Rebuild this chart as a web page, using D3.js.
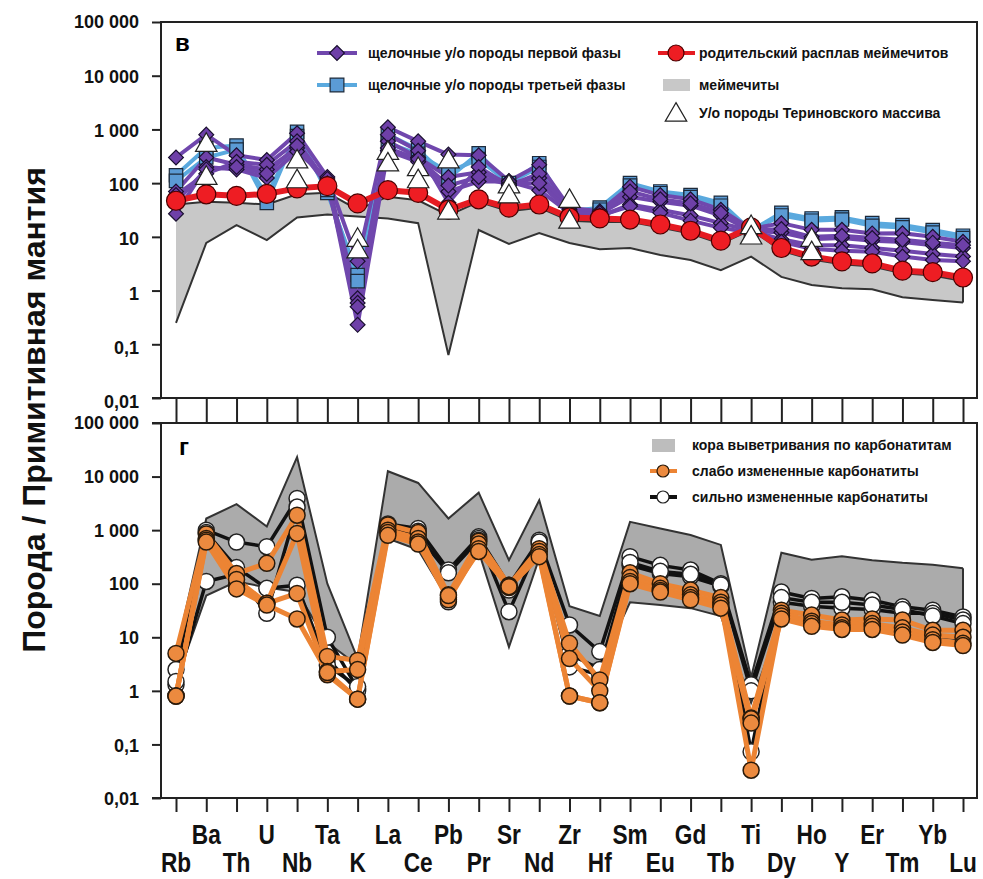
<!DOCTYPE html>
<html><head><meta charset="utf-8">
<script src="https://cdn.jsdelivr.net/npm/d3@7"></script>
<style>
body{margin:0;background:#fff;}
svg{display:block;font-family:"Liberation Sans",Arial,sans-serif;}
</style>
</head><body>
<svg id="c" width="983" height="879"></svg>
<script>
// ---------- DATA ----------
const elements = ["Rb","Ba","Th","U","Nb","Ta","K","La","Ce","Pb","Pr","Sr","Nd","Zr","Hf","Sm","Eu","Gd","Tb","Ti","Dy","Ho","Y","Er","Tm","Yb","Lu"];
const yTickValues = [0.01,0.1,1,10,100,1000,10000,100000];
const yTickLabels = ["0,01","0,1","1","10","100","1 000","10 000","100 000"];

// panel "в"
const meimechiteMax = [40,45,43,40,62,66,32,56,48,25,45,30,35,20,19,19,15,11.5,7.5,13.5,5.5,3.8,3.1,2.8,2.1,1.9,1.5];
const meimechiteMin = [0.25,7.7,16.6,8.7,23,26,24,22,18,0.063,13.4,7.4,11.8,7.7,5.9,6.2,4.6,3.7,2.4,4.3,1.8,1.27,1.1,1.06,0.75,0.67,0.6];
const parentalMelt = [47,62,58,63,80,88,42,74,66,32,50,35,40,23,22,21,17,13,8.5,15,6.2,4.3,3.5,3.2,2.35,2.2,1.75];
const phase1_a = [300,800,330,270,850,130,3.5,1100,600,340,330,110,220,35,30,86,60,50,32,14,18,13.5,13.5,11.6,11.7,10,8.1];
const phase1_b = [70,300,220,180,450,110,0.72,600,300,130,160,100,124,30,27,56,45,38,25,13,12,9,9.5,8.5,8,7,6.2];
const phase1_c = [27,200,180,125,390,120,0.23,400,250,70,107,107,74,28,24,40,32,25,18,13,9,7,7,6.2,5.5,4.8,4.3];
const phase1_d = [60,150,250,220,600,100,0.59,800,400,43,200,90,150,32,28,70,50,42,28,13,14,10,10.5,9.5,8.8,7.8,7];
const phase1_e = [45,180,200,150,500,90,0.5,450,280,90,130,95,100,30,25,37,28,20,14.7,12,8.1,6,5.5,5.3,4.3,3.7,3.5];
const phase3_a = [140,450,500,43,900,66,1.95,800,420,124,360,93,235,30,35,100,70,60,43,13,28,22,23,18,16.6,13.4,10.5];
const phase3_b = [110,300,420,60,750,75,1.5,550,350,160,280,100,200,32,32,90,65,55,38,13,25,20,21,16,15,12,9.5];
const terinovsky_a = [null,510,null,null,250,null,8.7,360,180,250,null,86,null,46,null,null,null,null,null,15,null,8.7,null,null,null,null,null];
const terinovsky_b = [null,124,null,null,107,null,5.3,220,107,28,null,56,null,19,null,null,null,null,null,9.6,null,4.9,null,null,null,null,null];

// panel "г"
const crustMax = [5,1650,3050,1170,23000,100,4,12600,7600,1650,5000,275,3600,38,25,1430,1070,810,530,1.8,380,280,325,275,245,225,195];
const crustMin = [1.5,60,110,85,70,8,3,700,430,50,400,6.6,300,4.4,2.8,45,40,35,25,0.6,21,18,17,15,13,10,9];
const weak_a = [5,850,155,240,1900,4.4,3.7,1250,900,62,620,94,450,7.7,1.6,160,100,76,55,0.31,32,26,21,22,21,13.5,13.5];
const weak_b = [0.8,700,94,43,870,2.3,2.5,1000,700,55,550,90,400,4,1.0,130,82,62,45,0.033,28,20,17,18,15,11,10];
const weak_c = [0.8,650,120,43,66,2.0,0.7,900,600,50,450,85,350,0.8,0.6,110,75,55,40,0.3,25,18,15,16,12.6,9,7.7];
const weak_d = [0.8,600,80,40,22,2.2,0.7,800,550,60,400,88,320,0.8,0.6,100,70,50,35,0.25,22,16,14,14,11,8,7];
const strong_a = [2.5,1000,600,490,3900,10,1.1,1300,1070,180,750,94,650,17,5.4,320,220,180,100,1.3,70,53,57,49,37,32,24];
const strong_b = [1.3,110,150,28,2700,4,1.0,1100,950,46,700,30,550,2.8,2,220,155,135,90,0.073,45,38,35,33,28,28,21];
const strong_c = [1.5,900,200,82,94,3,1.2,1000,800,160,650,76,600,5,2.5,250,170,150,95,1.0,55,45,45,40,33,25,18];

// ---------- SCALES ----------
const svg = d3.select("#c");
const x = d3.scalePoint().domain(elements).range([176, 963]);
const yTop = d3.scaleLog().domain([0.01, 100000]).range([398, 22]);
const yBot = d3.scaleLog().domain([0.01, 100000]).range([798, 423]);
const L = 161, R = 977;

function rows(vals){ return vals.map((v,i)=>({el:elements[i], v})); }

// ---------- GRAY BANDS ----------
function band(y, lo, hi, fill){
  const d = elements.map((e,i)=>({el:e, lo:lo[i], hi:hi[i]}));
  svg.append("path").datum(d)
    .attr("d", d3.area().x(p=>x(p.el)).y0(p=>y(p.lo)).y1(p=>y(p.hi)))
    .attr("fill", fill);
  [lo, hi].forEach(arr=>{
    svg.append("path").datum(rows(arr))
      .attr("d", d3.line().x(p=>x(p.el)).y(p=>y(p.v)))
      .attr("fill","none").attr("stroke","#333").attr("stroke-width",2).attr("stroke-linejoin","miter");
  });
  const n = elements.length-1;
  svg.append("line").attr("x1",x(elements[n])).attr("x2",x(elements[n]))
    .attr("y1",y(lo[n])).attr("y2",y(hi[n])).attr("stroke","#333").attr("stroke-width",2);
}
band(yTop, meimechiteMin, meimechiteMax, "#c8c8c8");
band(yBot, crustMin, crustMax, "#ababab");

function seriesLine(y, vals, color, w){
  svg.append("path").datum(rows(vals))
    .attr("d", d3.line().defined(p=>p.v!=null).x(p=>x(p.el)).y(p=>y(p.v)))
    .attr("fill","none").attr("stroke",color).attr("stroke-width",w).attr("stroke-linejoin","round");
}
function markers(y, vals, type, size, fill, stroke, sw, rot){
  svg.append("g").selectAll("path").data(rows(vals).filter(p=>p.v!=null)).join("path")
    .attr("d", d3.symbol().type(type).size(size)())
    .attr("transform", p=>`translate(${x(p.el)},${y(p.v)})` + (rot?` rotate(${rot})`:""))
    .attr("fill",fill).attr("stroke",stroke).attr("stroke-width",sw);
}

// ---------- TOP PANEL SERIES ----------
const PURPLE = "#7047ad", PURPLE_F = "#6e40a8", BLUE = "#5aa9de", BLUE_F = "#5b9bd5";
const RED = "#e51b22", RED_F = "#ee1d23";
const phase3 = [phase3_a, phase3_b];
const phase1 = [phase1_a, phase1_b, phase1_c, phase1_d, phase1_e];
phase3.forEach(s=>seriesLine(yTop, s, BLUE, 4));
phase1.forEach(s=>seriesLine(yTop, s, PURPLE, 4));
phase3.forEach(s=>markers(yTop, s, d3.symbolSquare, 180, BLUE_F, "#1d2a3a", 1.2));
phase1.forEach(s=>markers(yTop, s, d3.symbolSquare, 110, PURPLE_F, "#1a1030", 1.2, 45));
seriesLine(yTop, parentalMelt, RED, 6);
svg.append("g").selectAll("circle").data(rows(parentalMelt)).join("circle")
  .attr("cx",p=>x(p.el)).attr("cy",p=>yTop(p.v)).attr("r",9.5)
  .attr("fill",RED_F).attr("stroke","#4a0000").attr("stroke-width",1.2);
[terinovsky_a, terinovsky_b].forEach(s=>markers(yTop, s, d3.symbolTriangle, 200, "#fff", "#222", 1.2));

// ---------- BOTTOM PANEL SERIES ----------
const ORANGE = "#ec8434", ORANGE_F = "#ec8a3f";
const strong = [strong_a, strong_b, strong_c];
const weak = [weak_a, weak_b, weak_c, weak_d];
strong.forEach(s=>seriesLine(yBot, s, "#111", 3.5));
strong.forEach(s=>{
  svg.append("g").selectAll("circle").data(rows(s)).join("circle")
    .attr("cx",p=>x(p.el)).attr("cy",p=>yBot(p.v)).attr("r",8)
    .attr("fill","#fff").attr("stroke","#222").attr("stroke-width",1.5);
});
weak.forEach(s=>seriesLine(yBot, s, ORANGE, 5));
weak.forEach(s=>{
  svg.append("g").selectAll("circle").data(rows(s)).join("circle")
    .attr("cx",p=>x(p.el)).attr("cy",p=>yBot(p.v)).attr("r",8)
    .attr("fill",ORANGE_F).attr("stroke","#2a1a0a").attr("stroke-width",1.5);
});

// ---------- AXES & FRAMES ----------
const FR = "#222";
function frame(top, bottom){
  svg.append("path").attr("d",`M${L},${bottom}V${top}H${R}V${bottom}H${L - 9}`)
    .attr("fill","none").attr("stroke",FR).attr("stroke-width",2);
}
frame(22, 398);
frame(423, 798);
svg.append("line").attr("x1",L-9).attr("x2",L).attr("y1",423).attr("y2",423).attr("stroke",FR).attr("stroke-width",2);

function yAxis(y, drift){
  const g = svg.append("g").attr("transform",`translate(${L},0)`)
    .call(d3.axisLeft(y).tickValues(yTickValues).tickSize(9).tickPadding(13)
      .tickFormat(d=>yTickLabels[yTickValues.indexOf(d)]));
  g.select(".domain").remove();
  g.selectAll(".tick line").attr("stroke",FR).attr("stroke-width",2);
  const [r0, r1] = y.range();
  g.selectAll(".tick text").attr("font-size",18).attr("font-weight","bold").attr("fill","#111")
    .attr("font-family","'Liberation Sans',Arial,sans-serif")
    .attr("y", d => drift * (y(d) - r1) / (r0 - r1));
}
yAxis(yTop, 4); yAxis(yBot, 1);

function xAxis(yPos, len){
  const g = svg.append("g").attr("transform",`translate(0,${yPos})`)
    .call(d3.axisBottom(x).tickSize(len).tickFormat(""));
  g.select(".domain").remove();
  g.selectAll(".tick line").attr("stroke",FR).attr("stroke-width",2);
}
xAxis(398, 25);
xAxis(798, 14);

// element labels (two staggered rows)
svg.append("g").selectAll("text").data(elements).join("text")
  .attr("transform",(d,i)=>`translate(${x(d)},${i%2 ? 844 : 872}) scale(0.84,1)`)
  .attr("text-anchor","middle").attr("font-size",27).attr("font-weight","bold").attr("fill","#111")
  .text(d=>d);

// y title
svg.append("text").attr("transform","translate(45,410) rotate(-90)")
  .attr("text-anchor","middle").attr("font-size",32).attr("font-weight","bold").attr("fill","#111")
  .text("Порода / Примитивная мантия");

// panel letters
svg.append("text").attr("x",175).attr("y",51).attr("font-size",24).attr("font-weight","bold").text("в");
svg.append("text").attr("x",179).attr("y",455).attr("font-size",24).attr("font-weight","bold").text("г");

// ---------- LEGENDS ----------
function ltext(xp, yp, t){
  svg.append("text").attr("x",xp).attr("y",yp).attr("dy","0.35em")
    .attr("font-size",14).attr("font-weight","bold").attr("fill","#111").text(t);
}
function lsym(xp, yp, type, size, fill, stroke, rot){
  svg.append("path").attr("d", d3.symbol().type(type).size(size)())
    .attr("transform",`translate(${xp},${yp})`+(rot?` rotate(${rot})`:""))
    .attr("fill",fill).attr("stroke",stroke).attr("stroke-width",1.2);
}
svg.append("line").attr("x1",317).attr("x2",357).attr("y1",53).attr("y2",53).attr("stroke",PURPLE).attr("stroke-width",4);
lsym(337,53,d3.symbolSquare,110,PURPLE_F,"#1a1030",45);
ltext(368,53,"щелочные у/о породы первой фазы");
svg.append("line").attr("x1",317).attr("x2",357).attr("y1",85).attr("y2",85).attr("stroke",BLUE).attr("stroke-width",4);
lsym(337,85,d3.symbolSquare,190,BLUE_F,"#1d2a3a");
ltext(368,85,"щелочные у/о породы третьей фазы");
svg.append("line").attr("x1",658).attr("x2",695).attr("y1",53).attr("y2",53).attr("stroke",RED).attr("stroke-width",4);
svg.append("circle").attr("cx",676).attr("cy",53).attr("r",8).attr("fill",RED_F).attr("stroke","#4a0000").attr("stroke-width",1.2);
ltext(699,53,"родительский расплав меймечитов");
svg.append("rect").attr("x",663).attr("y",79).attr("width",27).attr("height",12).attr("fill","#c8c8c8");
ltext(699,85,"меймечиты");
lsym(676,115,d3.symbolTriangle,200,"#fff","#222");
ltext(699,113,"У/о породы Териновского массива");
svg.append("rect").attr("x",652).attr("y",439).attr("width",23).attr("height",13).attr("fill","#bdbdbd");
ltext(692,445,"кора выветривания по карбонатитам");
svg.append("line").attr("x1",650).attr("x2",677).attr("y1",471).attr("y2",471).attr("stroke",ORANGE).attr("stroke-width",4);
svg.append("circle").attr("cx",663).attr("cy",471).attr("r",6).attr("fill",ORANGE_F).attr("stroke","#2a1a0a").attr("stroke-width",1.2);
ltext(692,471,"слабо измененные карбонатиты");
svg.append("line").attr("x1",650).attr("x2",677).attr("y1",497).attr("y2",497).attr("stroke","#111").attr("stroke-width",4);
svg.append("circle").attr("cx",663).attr("cy",497).attr("r",6).attr("fill","#fff").attr("stroke","#222").attr("stroke-width",1.2);
ltext(692,497,"сильно измененные карбонатиты");
</script>
</body></html>
